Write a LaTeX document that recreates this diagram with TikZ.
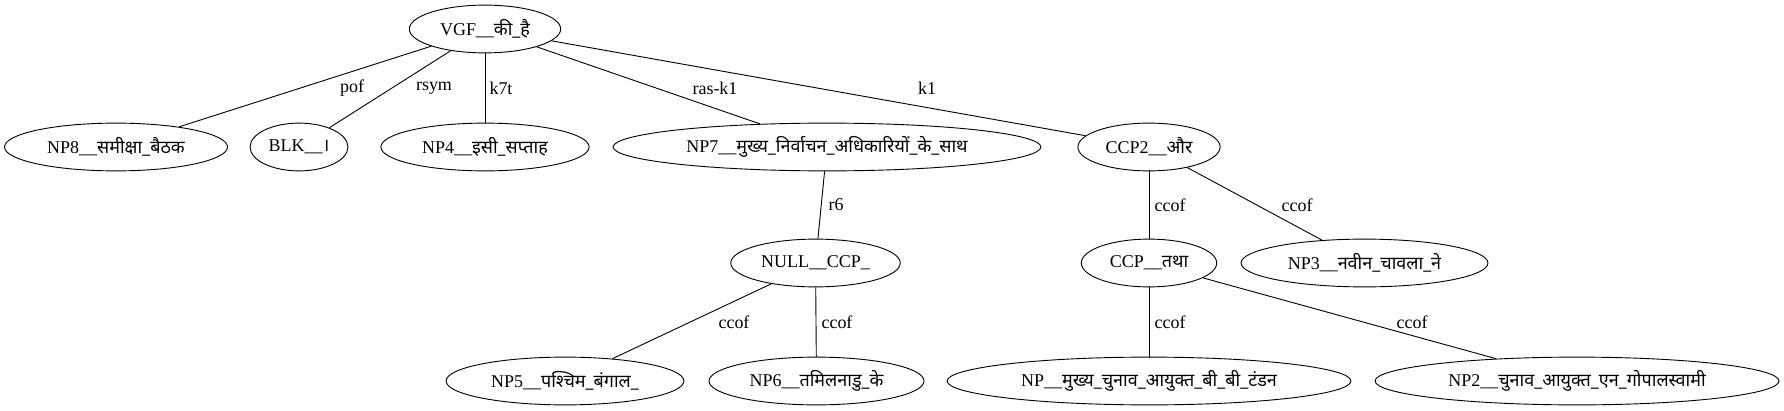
\documentclass[tikz,border=0pt]{standalone}
\usepackage{fontspec}
\setmainfont{Liberation Serif}
\newfontfamily\devfont[Script=Devanagari]{Noto Sans}
\newcommand{\hi}[1]{{\devfont #1}}
\usetikzlibrary{shapes.geometric}
\tikzset{
  every picture/.style={font=\fontsize{15.8}{18}\selectfont, line join=round, line width=0.8pt},
  tnode/.style={draw, ellipse, inner sep=0pt, minimum height=42pt},
  lbl/.style={inner sep=0pt},
}

\begin{document}
\begin{tikzpicture}[x=0.8789pt,y=-0.8789pt]
\useasboundingbox (0,0) rectangle (1784,411);
\node[tnode, minimum width=133pt] (vgf) at (485,29) {VGF\_\_\hi{की\_है}};
\node[tnode, minimum width=196pt] (np8) at (116,147) {NP8\_\_\hi{समीक्षा\_बैठक}};
\node[tnode, minimum width=86pt] (blk) at (299,147) {BLK\_\_\hi{।}};
\node[tnode, minimum width=183pt] (np4) at (485,147) {NP4\_\_\hi{इसी\_सप्ताह}};
\node[tnode, minimum width=376pt] (np7) at (827,147) {NP7\_\_\hi{मुख्य\_निर्वाचन\_अधिकारियों\_के\_साथ}};
\node[tnode, minimum width=125pt] (ccp2) at (1149,147) {CCP2\_\_\hi{और}};
\node[tnode, minimum width=149pt] (null) at (815.5,263) {NULL\_\_CCP\_};
\node[tnode, minimum width=119pt] (ccp) at (1149,263) {CCP\_\_\hi{तथा}};
\node[tnode, minimum width=217pt] (np3) at (1364.5,263) {NP3\_\_\hi{नवीन\_चावला\_ने}};
\node[tnode, minimum width=209pt] (np5) at (565,381) {NP5\_\_\hi{पश्चिम\_बंगाल\_}};
\node[tnode, minimum width=189pt] (np6) at (816.5,381) {NP6\_\_\hi{तमिलनाडु\_के}};
\node[tnode, minimum width=355pt] (np) at (1149,381) {NP\_\_\hi{मुख्य\_चुनाव\_आयुक्त\_बी\_बी\_टंडन}};
\node[tnode, minimum width=355pt] (np2) at (1577,381) {NP2\_\_\hi{चुनाव\_आयुक्त\_एन\_गोपालस्वामी}};

\draw (vgf) -- (np8);
\draw (vgf) -- (blk);
\draw (vgf) -- (np4);
\draw (vgf) -- (np7);
\draw (vgf) -- (ccp2);
\draw (np7) -- (null);
\draw (ccp2) -- (ccp);
\draw (ccp2) -- (np3);
\draw (null) -- (np5);
\draw (null) -- (np6);
\draw (ccp) -- (np);
\draw (ccp) -- (np2);

\node[lbl] (l-pof) at (352,88) {pof};
\node[lbl] (l-rsym) at (434,88) {rsym};
\node[lbl] (l-k7t) at (501,88) {k7t};
\node[lbl] (l-rask1) at (715,88) {ras-k1};
\node[lbl] (l-k1) at (927,88) {k1};
\node[lbl] (l-r6) at (836,205) {r6};
\node[lbl] (l-ccof1) at (1170,205) {ccof};
\node[lbl] (l-ccof2) at (1297,205) {ccof};
\node[lbl] (l-ccof3) at (734,322) {ccof};
\node[lbl] (l-ccof4) at (837,322) {ccof};
\node[lbl] (l-ccof5) at (1170,322) {ccof};
\node[lbl] (l-ccof6) at (1412,322) {ccof};
\end{tikzpicture}
\end{document}
